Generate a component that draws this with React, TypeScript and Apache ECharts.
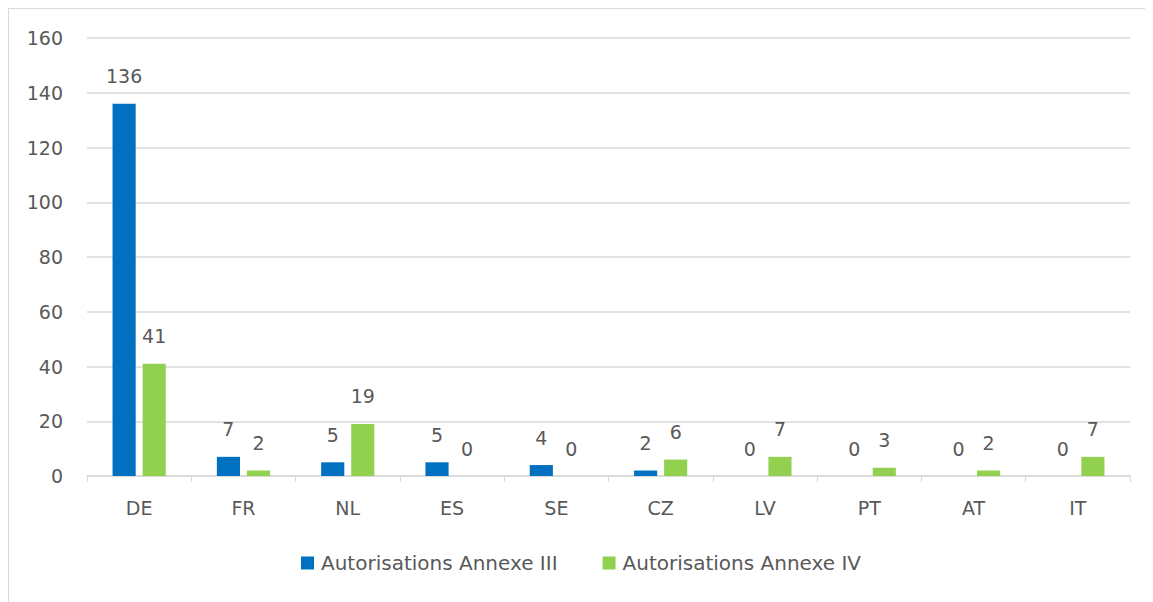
import React, { useEffect, useRef } from "react";
import * as echarts from "echarts";

const categories = ["DE", "FR", "NL", "ES", "SE", "CZ", "LV", "PT", "AT", "IT"];
const annexeIII = [136, 7, 5, 5, 4, 2, 0, 0, 0, 0];
const annexeIV = [41, 2, 19, 0, 0, 6, 7, 3, 2, 7];
const seriesNames = ["Autorisations Annexe III", "Autorisations Annexe IV"];

const FONT = "'DejaVu Sans', sans-serif";
const TEXT = "#595959";
const FS = 19;

export default function App() {
  const ref = useRef<HTMLDivElement>(null);
  useEffect(() => {
    const chart = echarts.init(ref.current!, null, { renderer: "svg" });
    const label = {
      show: true,
      position: "top" as const,
      distance: 18,
      color: TEXT,
      fontSize: FS,
      fontFamily: FONT,
    };
    chart.setOption({
      animation: false,
      textStyle: { fontFamily: FONT },
      grid: { left: 78, right: 23, top: 29, bottom: 126, containLabel: false },
      legend: {
        bottom: 24,
        left: "center",
        itemWidth: 13,
        itemHeight: 13,
        itemGap: 45,
        icon: "rect",
        textStyle: { color: TEXT, fontSize: 20, fontFamily: FONT, padding: [0, 0, 0, 2] },
        data: seriesNames,
      },
      xAxis: {
        type: "category",
        data: categories,
        axisLine: { lineStyle: { color: "#d9d9d9", width: 1.5 } },
        axisTick: { show: true, length: 6, lineStyle: { color: "#d9d9d9" } },
        axisLabel: { color: TEXT, fontSize: FS, margin: 22, fontFamily: FONT },
      },
      yAxis: {
        type: "value",
        min: 0,
        max: 160,
        interval: 20,
        axisLine: { show: false },
        axisTick: { show: false },
        axisLabel: { color: TEXT, fontSize: FS, margin: 24, fontFamily: FONT },
        splitLine: { lineStyle: { color: "#d9d9d9", width: 1.5 } },
      },
      series: [
        {
          name: seriesNames[0],
          type: "bar",
          data: annexeIII,
          itemStyle: { color: "#0070C0" },
          barGap: "30%",
          barCategoryGap: "49%",
          label,
        },
        {
          name: seriesNames[1],
          type: "bar",
          data: annexeIV,
          itemStyle: { color: "#92D050" },
          label,
        },
      ],
    });
    return () => chart.dispose();
  }, []);
  return (
    <div
      style={{
        width: 1145,
        height: 594,
        boxSizing: "border-box",
        borderTop: "1px solid #d9d9d9",
        borderLeft: "1px solid #d9d9d9",
        overflow: "hidden",
      }}
    >
      <div ref={ref} style={{ width: 1144, height: 593 }} />
    </div>
  );
}
